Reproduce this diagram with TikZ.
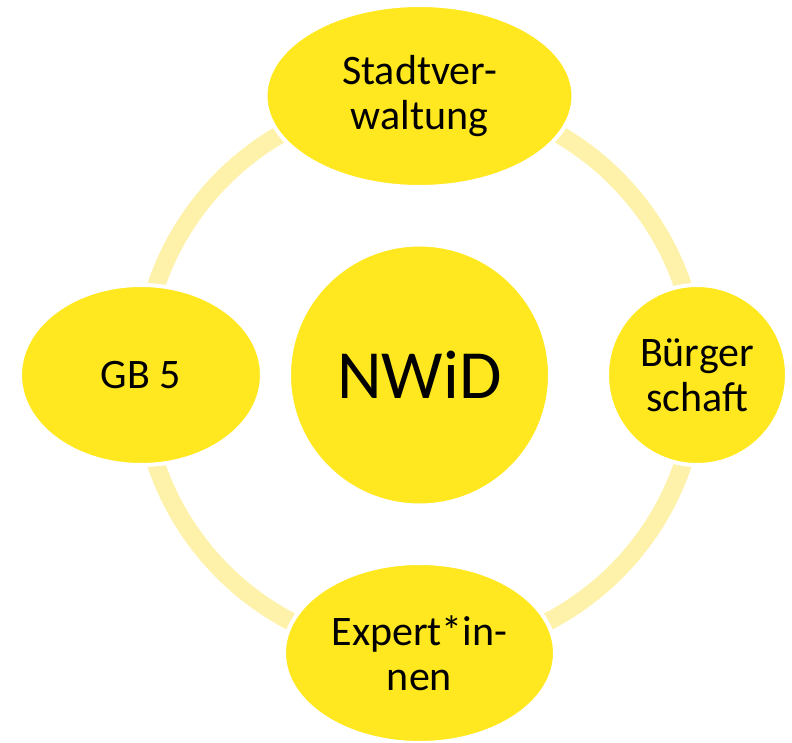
\documentclass[tikz,border=0pt]{standalone}
\usepackage{fontspec}
\setmainfont{Carlito}
\usetikzlibrary{shapes.geometric}
\definecolor{nodeyellow}{HTML}{FFE81F}
\definecolor{ringyellow}{HTML}{FEF1A9}
\tikzset{
  x=1pt, y=1pt,
  blob/.style={ellipse, fill=nodeyellow, draw=white, line width=4pt, inner sep=0pt,
    align=center, font=\fontsize{42}{45}\selectfont},
  ringline/.style={draw=ringyellow, line width=18pt}
}
\begin{document}
\begin{tikzpicture}
\useasboundingbox (0,0) rectangle (792,742);
\coordinate (c) at (419.5,367);
\draw[ringline] (c) circle[radius=278];
\node[blob, circle, minimum size=261, font=\fontsize{69}{72}\selectfont] (nwid) at (c) {NWiD};
\node[blob, minimum width=308, minimum height=182] (top) at (419.5,646) {Stadtver-\\waltung};
\node[blob, minimum width=242, minimum height=180] (left) at (141,367) {GB 5};
\node[blob, circle, minimum size=180] (right) at (697,367) {Bürger\\schaft};
\node[blob, minimum width=271, minimum height=180] (bottom) at (419.5,89) {Expert*in-\\nen};
\end{tikzpicture}
\end{document}
